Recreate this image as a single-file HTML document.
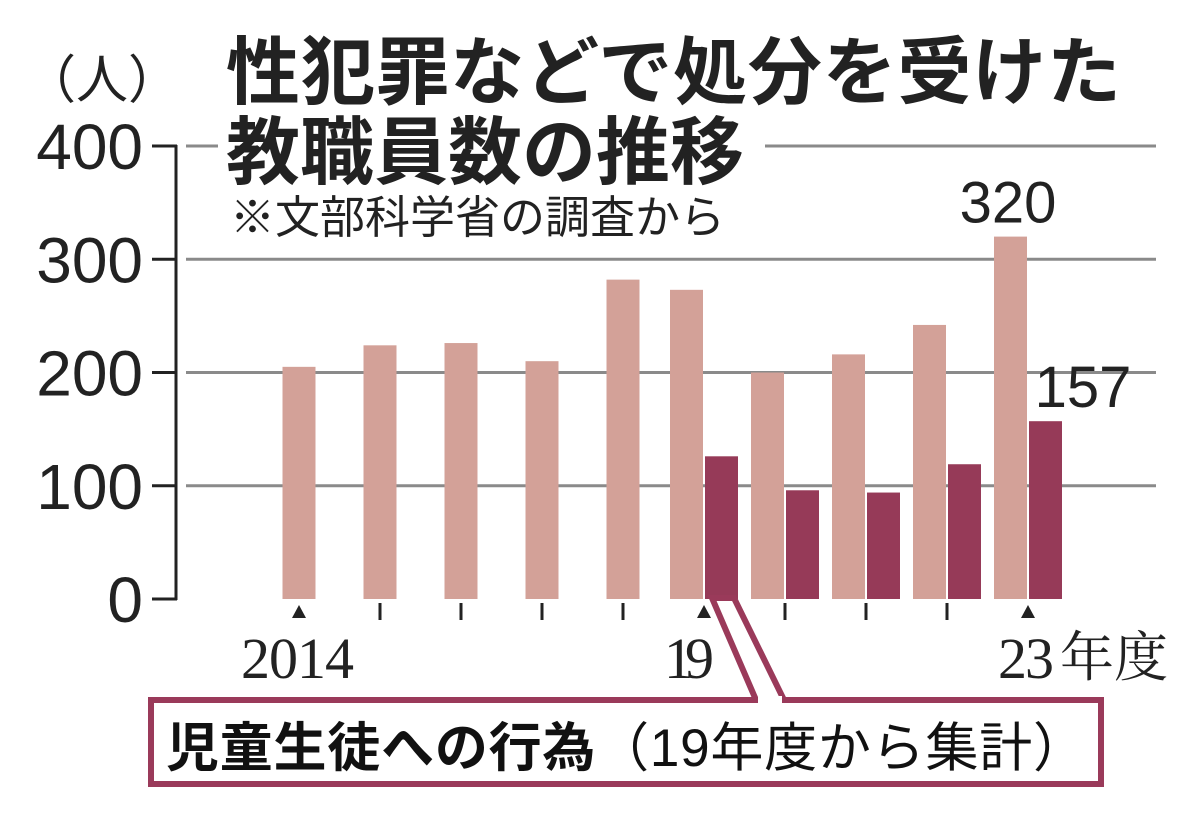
<!DOCTYPE html>
<html><head><meta charset="utf-8"><style>
html,body{margin:0;padding:0;background:#fff;}
svg{display:block;}
.jp{font-family:"Liberation Sans","Noto Sans CJK JP",sans-serif;}
.sr{font-family:"Liberation Serif","Noto Serif CJK SC",serif;}
</style></head><body>
<svg id="chart" width="1200" height="816" viewBox="0 0 1200 816">
<g id="grid"></g>
<g id="bars"></g>
<g id="axis"></g>
<text class="jp" x="24" y="98" font-size="52" fill="#222">（人）</text>
<text class="jp" x="226" y="98" font-size="74" font-weight="bold" fill="#222" textLength="895">性犯罪などで処分を受けた</text>
<text class="jp" x="226" y="178" font-size="74" font-weight="bold" fill="#222">教職員数の推移</text>
<text class="jp" x="230" y="233" font-size="45" fill="#222">※文部科学省の調査から</text>
<g id="xlabels"></g>
<g>
<polygon points="712,598 734,598 784,700 756,700" fill="#fff" stroke="#9a3a5a" stroke-width="6" stroke-linejoin="miter"/>
<rect x="151" y="700" width="950" height="84" fill="#fff" stroke="#9a3a5a" stroke-width="6"/>
<line x1="758" y1="700" x2="782" y2="700" stroke="#fff" stroke-width="8"/>
<text class="jp" x="166" y="766" font-size="53" fill="#111" textLength="920"><tspan font-weight="bold">児童生徒への行為</tspan><tspan>（19年度から集計）</tspan></text>
</g>
</svg>
<script>
const years=["2014","2015","2016","2017","2018","2019","2020","2021","2022","2023"];
const totalValues=[205,224,226,210,282,273,200,216,242,320];
const studentValues=[null,null,null,null,null,126,96,94,119,157];
const yTicks=[0,100,200,300,400];
const xLabelText=["2014","","","","","19","","","","23年度"];
const valueLabels=[{i:9,s:"total",t:"320"},{i:9,s:"student",t:"157"}];
const NS="http://www.w3.org/2000/svg";
function y(v){return 599-v*1.1325;}
function x(i){return 299+i*81.0;}
function mk(tag,attrs,parent){const e=document.createElementNS(NS,tag);for(const k in attrs)e.setAttribute(k,attrs[k]);parent.appendChild(e);return e;}
const grid=document.getElementById('grid'),bars=document.getElementById('bars'),axis=document.getElementById('axis'),xl=document.getElementById('xlabels');
yTicks.forEach(v=>{
 if(v>0){
  if(v===400){
   let g1=mk('line',{x1:186,x2:218,y1:y(v),y2:y(v),stroke:'#8a8a8a','stroke-width':3},grid);
   
   
   let g2=mk('line',{x1:765,x2:1156,y1:y(v),y2:y(v),stroke:'#8a8a8a','stroke-width':3},grid);
   
   
  } else {
   let g=mk('line',{x1:186,x2:1156,y1:y(v),y2:y(v),stroke:'#8a8a8a','stroke-width':3},grid);
   
   
  }
 }
 let t=mk('line',{x1:152,x2:177,y1:y(v),y2:y(v),stroke:'#222','stroke-width':3},axis);
 
 
 let tx=mk('text',{x:143,y:y(v)+23,'font-size':64,'text-anchor':'end',fill:'#222',class:'jp'},axis);
 tx.textContent=v;
 
 
});
let ax=mk('line',{x1:176,x2:176,y1:y(400)-1,y2:y(0)+1,stroke:'#222','stroke-width':3},axis);


years.forEach((yr,i)=>{
 const cx=x(i),hasS=studentValues[i]!=null,w=33;
 const lx=hasS?cx-w-1:cx-w/2;
 let b=mk('rect',{x:lx,y:y(totalValues[i]),width:w,height:y(0)-y(totalValues[i]),fill:'#d3a198'},bars);
 
 
 if(hasS){
  let d=mk('rect',{x:cx+1,y:y(studentValues[i]),width:w,height:y(0)-y(studentValues[i]),fill:'#963a58'},bars);
  
  
 }
 if(xLabelText[i]){
  let tr=mk('polygon',{points:`${cx-7},618 ${cx+7},618 ${cx},605`,fill:'#222'},axis);
  
  
 } else {
  let tk=mk('line',{x1:cx,x2:cx,y1:603,y2:620,stroke:'#222','stroke-width':3},axis);
  
  
 }
});
[[0,"2014",241,113],[5,"19",664,50],[9,"23",998,56]].forEach(a=>{
 let t=mk('text',{x:a[2],y:678,'font-size':58,fill:'#222',class:'sr',textLength:a[3]},xl);
 t.textContent=a[1];
 
 
});
let nd=mk('text',{x:1060,y:676,'font-size':54,fill:'#222',class:'sr'},xl);
nd.textContent="年度";


valueLabels.forEach(v=>{
 const val=v.s==="total"?totalValues[v.i]:studentValues[v.i];
 const cx=v.s==="total"?x(v.i)-20:x(v.i)+55;
 let t=mk('text',{x:cx,y:y(val)-14,'font-size':58,'text-anchor':'middle',fill:'#222',class:'jp'},xl);
 t.textContent=v.t;
 
 
});
</script>
</body></html>
